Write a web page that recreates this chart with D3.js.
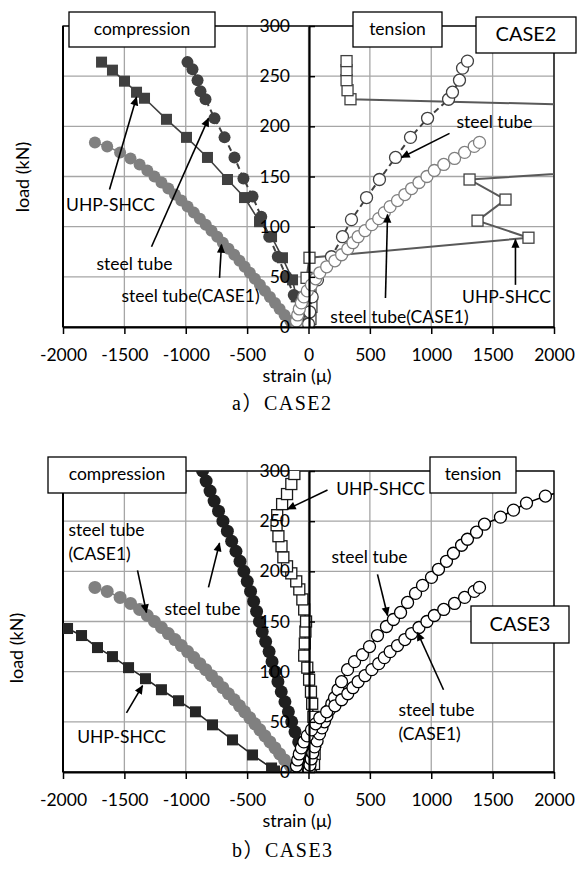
<!DOCTYPE html>
<html>
<head>
<meta charset="utf-8">
<script src="https://cdn.jsdelivr.net/npm/d3@7/dist/d3.min.js"></script>
<style>
  body { margin: 0; background: #fff; }
  svg { display: block; }
  text { font-family: Lato, "Noto Sans", sans-serif; fill: #000; }
</style>
</head>
<body>
<svg id="chart" width="584" height="879"></svg>
<script>
// axis ticks
const strainTicks = [-2000, -1500, -1000, -500, 0, 500, 1000, 1500, 2000];
const loadTicks = [0, 50, 100, 150, 200, 250, 300];

// steel tube (CASE1), same in both panels
const case1CompLoad = [0,6,12,18,24,30,36,42,48,54,60,66,72,78,84,90,96,102,108,114,120,126,132,138,144,150,156,162,168,174,180,184];
const case1CompStrain = [-90,-148,-195,-235,-273,-314,-355,-396,-437,-478,-520,-562,-605,-652,-698,-743,-790,-837,-885,-934,-985,-1036,-1088,-1142,-1198,-1255,-1313,-1376,-1450,-1535,-1640,-1740];
const case1TenLoad = [0,6,12,18,24,30,36,42,48,54,60,66,72,78,84,90,96,102,108,114,120,126,132,138,144,150,156,162,168,174,180,184];
const case1TenStrain = [-95,-98,-88,-75,-58,-38,-10,24,58,92,148,215,270,320,362,404,460,516,572,618,665,725,785,840,900,965,1025,1102,1190,1272,1350,1393];

// a) CASE2
const aCompUhpStrain = [-20,-60,-100,-130,-212,-301,-399,-521,-660,-823,-994,-1157,-1336,-1401,-1499,-1597,-1686];
const aCompUhpLoad = [0,15,30,47,69,90,105,129,147,169,189,207,228,234,245,256,264];
const aCompSteelStrain = [-15,-60,-120,-180,-250,-320,-385,-456,-530,-603,-684,-766,-839,-880,-904,-945,-986];
const aCompSteelLoad = [2,15,32,50,70,90,110,130,148,169,189,208,227,235,246,257,264];
const aTenSteelStrain = [0,10,30,73,187,277,350,473,578,709,831,970,1141,1173,1230,1255,1295];
const aTenSteelLoad = [3,15,30,47,70,90,107,129,147,169,189,208,227,234,246,258,265];
const aTenUhpStrain = [5,16,24,16,-16,8,1792,1377,1605,1312,4000,4000,342,318,310,310,310];
const aTenUhpLoad = [0,8,20,35,49,69,89,106,127,147,168,216,227,236,246,256,265];

// b) CASE3
const bCompUhpStrain = [-277,-301,-456,-619,-782,-921,-1059,-1198,-1328,-1466,-1597,-1719,-1849,-1963];
const bCompUhpLoad = [1,4,17,32,47,60,71,82,93,104,115,124,136,143];
const bCompSteelLoad = [0,10,20,30,40,50,60,70,80,90,100,110,120,130,140,150,160,170,180,190,200,210,220,230,240,250,260,270,280,290,300];
const bCompSteelStrain = [-5,-28,-51,-80,-110,-137,-164,-192,-222,-249,-272,-297,-321,-349,-377,-400,-423,-447,-472,-499,-527,-558,-591,-626,-661,-697,-733,-769,-802,-834,-863];
const bTenUhpStrain = [20,45,50,55,45,40,30,20,5,-10,-35,-30,-25,-20,-35,-50,-75,-100,-140,-175,-205,-220,-245,-260,-255,-215,-175,-140,-115];
const bTenUhpLoad = [0,8,18,30,42,55,68,80,92,104,116,128,140,150,162,172,182,190,198,205,214,225,235,246,256,267,277,287,297];
const bTenSteelStrain = [5,12,22,35,49,70,90,110,130,150,171,190,212,240,269,318,375,440,497,562,635,692,750,807,872,929,1002,1059,1124,1181,1247,1295,1369,1434,1564,1670,1776,1930,2100];
const bTenSteelLoad = [2,7,13,19,25,31,38,44,50,56,62,68,74,82,90,102,110,117,125,136,145,152,159,169,178,186,194,202,210,218,226,232,239,247,254,261,268,275,281];

const svg = d3.select('#chart');

svg.append('defs').append('marker')
    .attr('id', 'arrow')
    .attr('viewBox', '0 0 10 10')
    .attr('refX', 9).attr('refY', 5)
    .attr('markerUnits', 'userSpaceOnUse')
    .attr('markerWidth', 10).attr('markerHeight', 9)
    .attr('orient', 'auto')
    .append('path')
    .attr('d', 'M0,0.5 L10,5 L0,9.5 Z')
    .attr('fill', '#000');

const left = 63, right = 554, axisX = 309;

function drawPanel(p) {
    const x = d3.scaleLinear().domain([-2000, 2000]).range([left, right]);
    const y = d3.scaleLinear().domain([0, 300]).range([p.bottom, p.top]);
    const g = svg.append('g');

    g.append('clipPath').attr('id', p.id + 'clip')
        .append('rect')
        .attr('x', left).attr('y', p.top)
        .attr('width', right - left).attr('height', p.bottom - p.top);

    // gridlines
    g.selectAll('.vg').data(strainTicks).join('line')
        .attr('x1', d => x(d)).attr('x2', d => x(d))
        .attr('y1', p.top).attr('y2', p.bottom)
        .attr('stroke', '#a6a6a6').attr('stroke-width', 1.3);
    g.selectAll('.hg').data(loadTicks).join('line')
        .attr('x1', left).attr('x2', right)
        .attr('y1', d => y(d)).attr('y2', d => y(d))
        .attr('stroke', '#a6a6a6').attr('stroke-width', 1.3);

    // plot border
    g.append('rect')
        .attr('x', left).attr('y', p.top)
        .attr('width', right - left).attr('height', p.bottom - p.top)
        .attr('fill', 'none').attr('stroke', '#000').attr('stroke-width', 1.3);
    g.append('line')
        .attr('x1', left).attr('x2', left).attr('y1', p.top).attr('y2', p.bottom)
        .attr('stroke', '#000').attr('stroke-width', 2);

    // series
    const sg = g.append('g').attr('clip-path', `url(#${p.id}clip)`);
    p.series.forEach(s => plotSeries(sg, x, y, s));

    // x axis
    const xAxis = g.append('g')
        .attr('transform', `translate(0,${p.bottom})`)
        .call(d3.axisBottom(x).tickValues(strainTicks).tickSizeInner(7).tickSizeOuter(0)
            .tickPadding(15).tickFormat(d => String(d)));
    xAxis.select('.domain').attr('stroke-width', 2.2);
    xAxis.selectAll('.tick line').attr('stroke-width', 1.5);
    xAxis.selectAll('text').style('font-size', '17.5px').style('font-family', 'Lato');

    // y axis at zero strain
    const yAxis = g.append('g')
        .attr('transform', `translate(${axisX},0)`)
        .call(d3.axisLeft(y).tickValues(loadTicks).tickSizeInner(-6).tickSizeOuter(0)
            .tickPadding(19).tickFormat(d => String(d)));
    yAxis.select('.domain').attr('stroke-width', 2.2);
    yAxis.selectAll('.tick line').attr('stroke-width', 1.5);
    yAxis.selectAll('text').style('font-size', '17.5px').style('font-family', 'Lato');

    // axis titles
    g.append('text')
        .attr('transform', `translate(${p.yTitle[0]},${p.yTitle[1]}) rotate(-90)`)
        .attr('text-anchor', 'middle').attr('dominant-baseline', 'middle')
        .style('font-size', '18px').text('load (kN)');
    g.append('text')
        .attr('x', 297).attr('y', p.bottom + 50)
        .attr('text-anchor', 'middle').attr('dominant-baseline', 'middle')
        .style('font-size', '18px').text('strain (μ)');

    // boxed labels
    p.boxes.forEach(b => {
        g.append('rect')
            .attr('x', b.x).attr('y', b.y).attr('width', b.w).attr('height', b.h)
            .attr('fill', '#fff').attr('stroke', '#000').attr('stroke-width', 1.3);
        g.append('text')
            .attr('x', b.x + b.w / 2).attr('y', b.y + b.h / 2 + 1)
            .attr('text-anchor', 'middle').attr('dominant-baseline', 'middle')
            .style('font-size', b.size + 'px').text(b.text);
    });

    // callouts
    p.notes.forEach(n => {
        const t = g.append('text')
            .attr('x', x(n.at[0])).attr('y', y(n.at[1]))
            .attr('text-anchor', n.anchor || 'middle')
            .style('font-size', '17.5px');
        n.lines.forEach((ln, i) => {
            t.append('tspan').attr('x', x(n.at[0])).attr('dy', i === 0 ? '0.35em' : '1.35em').text(ln);
        });
        g.append('line')
            .attr('x1', x(n.from[0])).attr('y1', y(n.from[1]))
            .attr('x2', x(n.to[0])).attr('y2', y(n.to[1]))
            .attr('stroke', '#000').attr('stroke-width', 1.6)
            .attr('marker-end', 'url(#arrow)');
    });

    // caption
    svg.append('text')
        .attr('x', 232).attr('y', p.caption[1])
        .style('font-family', '"Liberation Serif", "Noto Sans CJK SC", serif')
        .style('font-size', '20px')
        .style('letter-spacing', '1.5px')
        .text(p.caption[0]);
}

function plotSeries(g, x, y, s) {
    const pts = s.strain.map((v, i) => [v, s.load[i]]);
    if (s.line) {
        g.append('path').datum(pts)
            .attr('d', d3.line().x(d => x(d[0])).y(d => y(d[1])))
            .attr('fill', 'none').attr('stroke', s.line)
            .attr('stroke-width', s.lw || 1.6)
            .attr('stroke-dasharray', s.dash || null);
    }
    if (s.shape === 'square') {
        g.selectAll(null).data(pts).join('rect')
            .attr('x', d => x(d[0]) - s.size / 2).attr('y', d => y(d[1]) - s.size / 2)
            .attr('width', s.size).attr('height', s.size)
            .attr('fill', s.fill).attr('stroke', s.stroke || 'none').attr('stroke-width', 1.3);
    } else {
        g.selectAll(null).data(pts).join('circle')
            .attr('cx', d => x(d[0])).attr('cy', d => y(d[1]))
            .attr('r', s.size / 2)
            .attr('fill', s.fill).attr('stroke', s.stroke || 'none').attr('stroke-width', 1.3);
    }
}

drawPanel({
    id: 'a', top: 26, bottom: 327, yTitle: [24, 177], caption: ['a）CASE2', 410],
    series: [
        { strain: case1CompStrain, load: case1CompLoad, shape: 'circle', size: 12, fill: '#808080', line: '#808080' },
        { strain: aCompUhpStrain, load: aCompUhpLoad, shape: 'square', size: 11, fill: '#404040', line: '#404040' },
        { strain: aCompSteelStrain, load: aCompSteelLoad, shape: 'circle', size: 12, fill: '#404040', line: '#404040', dash: '6,4', lw: 2 },
        { strain: aTenUhpStrain, load: aTenUhpLoad, shape: 'square', size: 11, fill: '#fff', stroke: '#404040', line: '#595959', lw: 2 },
        { strain: aTenSteelStrain, load: aTenSteelLoad, shape: 'circle', size: 12, fill: '#fff', stroke: '#404040', line: '#404040', dash: '6,4', lw: 2 },
        { strain: case1TenStrain, load: case1TenLoad, shape: 'circle', size: 12, fill: '#fff', stroke: '#808080', line: '#808080' }
    ],
    boxes: [
        { x: 69, y: 12, w: 146, h: 35, text: 'compression', size: 17.5 },
        { x: 353, y: 12, w: 89, h: 35, text: 'tension', size: 17.5 },
        { x: 476, y: 17, w: 100, h: 36, text: 'CASE2', size: 20 }
    ],
    notes: [
        { lines: ['UHP-SHCC'], at: [-1613, 122], from: [-1621, 137], to: [-1401, 229] },
        { lines: ['steel tube'], at: [-1418, 63], from: [-1279, 80], to: [-815, 208] },
        { lines: ['steel tube(CASE1)'], at: [-961, 31], from: [-725, 49], to: [-709, 82] },
        { lines: ['steel tube'], at: [1515, 204], from: [1149, 193], to: [758, 169] },
        { lines: ['steel tube(CASE1)'], at: [741, 10], from: [627, 29], to: [644, 112] },
        { lines: ['UHP-SHCC'], at: [1613, 30], from: [1686, 42], to: [1686, 87] }
    ]
});

drawPanel({
    id: 'b', top: 471, bottom: 772, yTitle: [18, 648], caption: ['b）CASE3', 857],
    series: [
        { strain: case1CompStrain, load: case1CompLoad, shape: 'circle', size: 13, fill: '#808080', line: '#808080' },
        { strain: bCompUhpStrain, load: bCompUhpLoad, shape: 'square', size: 11, fill: '#262626', line: '#262626' },
        { strain: bCompSteelStrain, load: bCompSteelLoad, shape: 'circle', size: 13, fill: '#1f1f1f', line: '#1f1f1f' },
        { strain: bTenUhpStrain, load: bTenUhpLoad, shape: 'square', size: 11, fill: '#fff', stroke: '#1a1a1a', line: '#1a1a1a' },
        { strain: bTenSteelStrain, load: bTenSteelLoad, shape: 'circle', size: 12, fill: '#fff', stroke: '#000', line: '#000' },
        { strain: case1TenStrain, load: case1TenLoad, shape: 'circle', size: 12, fill: '#fff', stroke: '#000', line: '#000' }
    ],
    boxes: [
        { x: 48, y: 457, w: 138, h: 36, text: 'compression', size: 17.5 },
        { x: 430, y: 457, w: 86, h: 36, text: 'tension', size: 17.5 },
        { x: 471, y: 606, w: 98, h: 37, text: 'CASE3', size: 20 }
    ],
    notes: [
        { lines: ['steel tube', '(CASE1)'], at: [-1955, 241], anchor: 'start', from: [-1393, 201], to: [-1320, 159] },
        { lines: ['steel tube'], at: [-864, 163], from: [-815, 184], to: [-725, 228] },
        { lines: ['UHP-SHCC'], at: [-1523, 35], from: [-1483, 59], to: [-1352, 86] },
        { lines: ['UHP-SHCC'], at: [587, 282], from: [155, 281], to: [-171, 262] },
        { lines: ['steel tube'], at: [497, 214], from: [562, 197], to: [644, 156] },
        { lines: ['steel tube', '(CASE1)'], at: [733, 62], anchor: 'start', from: [1100, 82], to: [888, 139] }
    ]
});
</script>
</body>
</html>
